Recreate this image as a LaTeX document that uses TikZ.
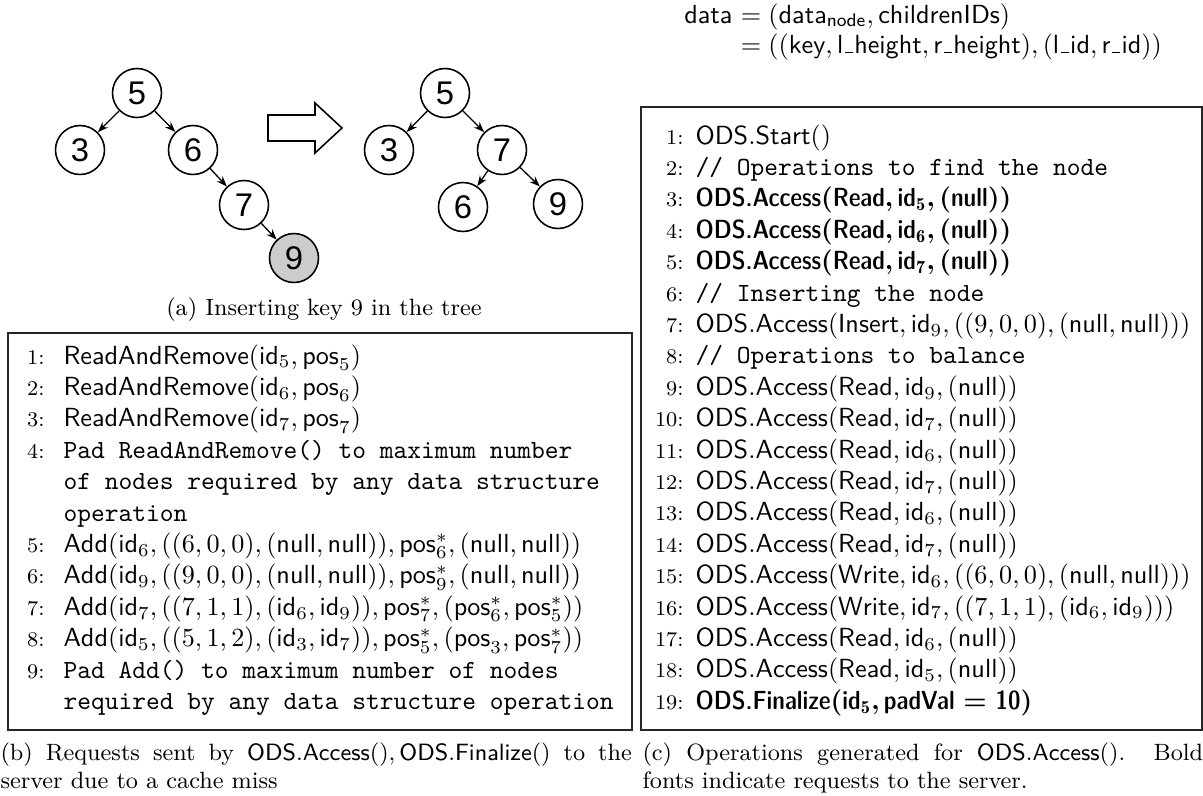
\documentclass[tikz,border=0pt]{standalone}
\usepackage{fontspec}
\newfontfamily\arialf{Liberation Sans}
\usetikzlibrary{arrows.meta}
\newcommand{\myf}[1]{\mathsf{#1}}
\newcommand{\dslash}{\texttt{//}}
\newcommand{\usc}{\kern.06em\vbox{\hrule width.3em}\kern.06em}
\newcommand{\bsf}[1]{{\sffamily\fontseries{sbc}\selectfont #1}}
\newcommand{\bpline}[3]{%
  \node[lnum] (bn#1) at (45,364+31.4*#1) {#2};
  \node[ltxt] (bt#1) at (63,364+31.4*#1) {#3};}
\newcommand{\cpline}[3]{%
  \node[lnum] (cn#1) at (684,144+31.4*#1) {#2};
  \node[ltxt] (ct#1) at (695,144+31.4*#1) {#3};}
\tikzset{
  tnode/.style={circle, draw, line width=0.6pt, minimum size=18.7pt, inner sep=0pt,
    font=\arialf\fontsize{12.5}{14}\selectfont},
  hinode/.style={tnode, fill=black!20},
  tedge/.style={-{Stealth[length=4pt,width=3pt]}, line width=0.5pt},
  lnum/.style={anchor=base east, font=\footnotesize, inner sep=0pt},
  ltxt/.style={anchor=base west, inner sep=0pt},
  boxl/.style={draw=black!85, line width=0.6pt},
  capl/.style={anchor=base west, inner sep=0pt, font=\small}
}
\begin{document}
\begin{tikzpicture}[x=0.3817pt,y=-0.3817pt]
\useasboundingbox (0,0) rectangle (1203,795);
% ---------- tree before ----------
\node[tnode] (a5) at (137,93) {5};
\node[tnode] (a3) at (80,150) {3};
\node[tnode] (a6) at (193,150) {6};
\node[tnode] (a7) at (244,205) {7};
\node[hinode] (a9) at (294,258) {9};
\draw[tedge] (a5) -- (a3);
\draw[tedge] (a5) -- (a6);
\draw[tedge] (a6) -- (a7);
\draw[tedge] (a7) -- (a9);
% ---------- hollow arrow ----------
\draw[line width=0.6pt] (268,115) -- (315,115) -- (315,103) -- (342,128)
  -- (315,153) -- (315,141) -- (268,141) -- cycle;
% ---------- tree after ----------
\node[tnode] (b5) at (445,93) {5};
\node[tnode] (b3) at (389,150) {3};
\node[tnode] (b7) at (502,150) {7};
\node[tnode] (b6) at (463,207) {6};
\node[tnode] (b9) at (558,204) {9};
\draw[tedge] (b5) -- (b3);
\draw[tedge] (b5) -- (b7);
\draw[tedge] (b7) -- (b6);
\draw[tedge] (b7) -- (b9);
\node[anchor=base, inner sep=0pt, font=\small] (capa) at (324,315) {(a) Inserting key 9 in the tree};
% ---------- data definition ----------
\node[anchor=base east, inner sep=0pt] (d0) at (733,23) {$\myf{data}$};
\node[anchor=base west, inner sep=0pt] (d1) at (733,23) {${}=(\myf{data}_{\myf{node}},\myf{childrenIDs})$};
\node[anchor=base west, inner sep=0pt] (d2) at (733,53) {${}=((\myf{key},\textsf{l\usc height},\textsf{r\usc height}),(\textsf{l\usc id},\textsf{r\usc id}))$};
% ---------- box (b) ----------
\draw[boxl] (8,333) rectangle (632,730);
\bpline{0}{1:}{$\myf{ReadAndRemove}(\myf{id}_5,\myf{pos}_5)$}
\bpline{1}{2:}{$\myf{ReadAndRemove}(\myf{id}_6,\myf{pos}_6)$}
\bpline{2}{3:}{$\myf{ReadAndRemove}(\myf{id}_7,\myf{pos}_7)$}
\bpline{3}{4:}{\texttt{Pad ReadAndRemove() to maximum number}}
\bpline{4}{}{\texttt{of nodes required by any data structure}}
\bpline{5}{}{\texttt{operation}}
\bpline{6}{5:}{$\myf{Add}(\myf{id}_6,((6,0,0),(\myf{null},\myf{null})),\myf{pos}^*_6,(\myf{null},\myf{null}))$}
\bpline{7}{6:}{$\myf{Add}(\myf{id}_9,((9,0,0),(\myf{null},\myf{null})),\myf{pos}^*_9,(\myf{null},\myf{null}))$}
\bpline{8}{7:}{$\myf{Add}(\myf{id}_7,((7,1,1),(\myf{id}_6,\myf{id}_9)),\myf{pos}^*_7,(\myf{pos}^*_6,\myf{pos}^*_5))$}
\bpline{9}{8:}{$\myf{Add}(\myf{id}_5,((5,1,2),(\myf{id}_3,\myf{id}_7)),\myf{pos}^*_5,(\myf{pos}_3,\myf{pos}^*_7))$}
\bpline{10}{9:}{\texttt{Pad Add() to maximum number of nodes}}
\bpline{11}{}{\texttt{required by any data structure operation}}
% ---------- box (c) ----------
\draw[boxl] (641,107) rectangle (1202,730);
\cpline{0}{1:}{$\myf{ODS.Start}()$}
\cpline{1}{2:}{\texttt{\dslash{} Operations to find the node}}
\cpline{2}{3:}{\bsf{ODS.Access}\textbf{(}\bsf{Read}\textbf{,}\,\bsf{id}$_{\mathbf{5}}$\textbf{,}\,\textbf{(}\bsf{null}\textbf{))}}
\cpline{3}{4:}{\bsf{ODS.Access}\textbf{(}\bsf{Read}\textbf{,}\,\bsf{id}$_{\mathbf{6}}$\textbf{,}\,\textbf{(}\bsf{null}\textbf{))}}
\cpline{4}{5:}{\bsf{ODS.Access}\textbf{(}\bsf{Read}\textbf{,}\,\bsf{id}$_{\mathbf{7}}$\textbf{,}\,\textbf{(}\bsf{null}\textbf{))}}
\cpline{5}{6:}{\texttt{\dslash{} Inserting the node}}
\cpline{6}{7:}{$\myf{ODS.Access}(\myf{Insert},\myf{id}_9,((9,0,0),(\myf{null},\myf{null})))$}
\cpline{7}{8:}{\texttt{\dslash{} Operations to balance}}
\cpline{8}{9:}{$\myf{ODS.Access}(\myf{Read},\myf{id}_9,(\myf{null}))$}
\cpline{9}{10:}{$\myf{ODS.Access}(\myf{Read},\myf{id}_7,(\myf{null}))$}
\cpline{10}{11:}{$\myf{ODS.Access}(\myf{Read},\myf{id}_6,(\myf{null}))$}
\cpline{11}{12:}{$\myf{ODS.Access}(\myf{Read},\myf{id}_7,(\myf{null}))$}
\cpline{12}{13:}{$\myf{ODS.Access}(\myf{Read},\myf{id}_6,(\myf{null}))$}
\cpline{13}{14:}{$\myf{ODS.Access}(\myf{Read},\myf{id}_7,(\myf{null}))$}
\cpline{14}{15:}{$\myf{ODS.Access}(\myf{Write},\myf{id}_6,((6,0,0),(\myf{null},\myf{null})))$}
\cpline{15}{16:}{$\myf{ODS.Access}(\myf{Write},\myf{id}_7,((7,1,1),(\myf{id}_6,\myf{id}_9)))$}
\cpline{16}{17:}{$\myf{ODS.Access}(\myf{Read},\myf{id}_6,(\myf{null}))$}
\cpline{17}{18:}{$\myf{ODS.Access}(\myf{Read},\myf{id}_5,(\myf{null}))$}
\cpline{18}{19:}{\bsf{ODS.Finalize}\textbf{(}\bsf{id}$_{\mathbf{5}}$\textbf{,}\,\bsf{padVal} \textbf{=} \bsf{10}\textbf{)}}
% ---------- captions ----------
\node[capl] (capb1) at (0,760)
  {\makebox[241pt][s]{(b) Requests sent by $\myf{ODS.Access}(),\myf{ODS.Finalize}()$ to the}};
\node[capl] (capb2) at (0,788) {server due to a cache miss};
\node[capl] (capc1) at (642,760)
  {\makebox[214pt][s]{(c) Operations generated for $\myf{ODS.Access}()$.\ \ Bold}};
\node[capl] (capc2) at (642,788) {fonts indicate requests to the server.};
\end{tikzpicture}
\end{document}
